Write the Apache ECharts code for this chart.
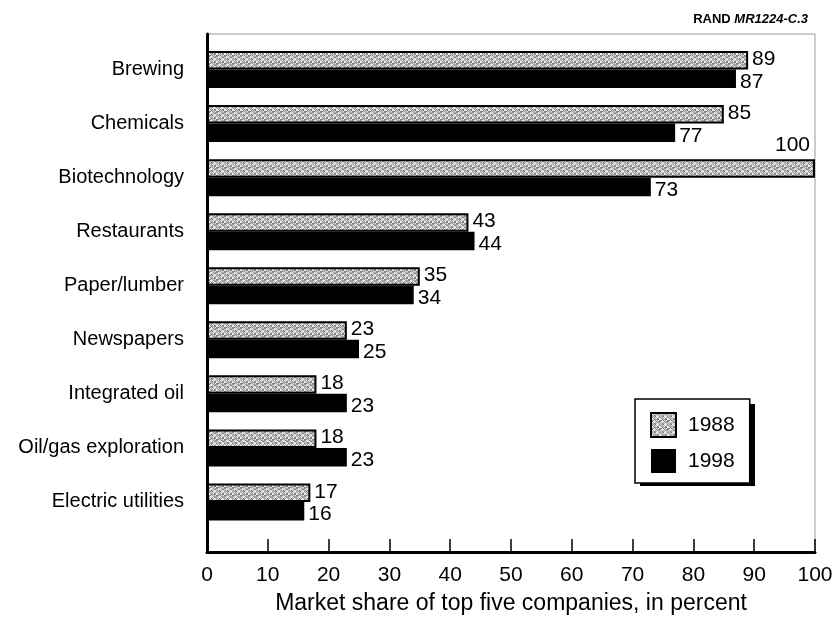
<!DOCTYPE html>
<html>
<head>
<meta charset="utf-8">
<script src="https://cdn.jsdelivr.net/npm/echarts@6/dist/echarts.min.js"></script>
<style>
  html, body { margin: 0; padding: 0; background: #fff; }
  #chart { width: 834px; height: 617px; }
</style>
</head>
<body>
<div id="chart"></div>
<script>
const categories = ['Brewing', 'Chemicals', 'Biotechnology', 'Restaurants', 'Paper/lumber',
  'Newspapers', 'Integrated oil', 'Oil/gas exploration', 'Electric utilities']
const share1988 = [89, 85, 100, 43, 35, 23, 18, 18, 17]
const share1998 = [87, 77, 73, 44, 34, 25, 23, 23, 16]
const xTicks = [0, 10, 20, 30, 40, 50, 60, 70, 80, 90, 100]

const font = 'Liberation Sans, Arial, Helvetica, sans-serif'

// stippled gray fill, like the printed screen
function stipple() {
  const c = document.createElement('canvas')
  c.width = 8; c.height = 8
  const ctx = c.getContext('2d')
  const shades = [150, 235, 190, 120, 210, 170, 245, 140]
  for (let y = 0; y < 8; y++) {
    for (let x = 0; x < 8; x++) {
      const g = shades[(x * 3 + y * 5 + (x * y) % 3) % 8]
      ctx.fillStyle = 'rgb(' + g + ',' + g + ',' + g + ')'
      ctx.fillRect(x, y, 1, 1)
    }
  }
  return c
}

const chart = echarts.init(document.getElementById('chart'))

// the 100 label sits above the bar end
const data1988 = share1988.map(v => v === 100 ? {
  value: v,
  label: { position: ['100%', 0], align: 'right', verticalAlign: 'bottom', offset: [-5, -3] }
} : v)

const option = {
  animation: false,
  backgroundColor: '#fff',
  title: {
    text: '{b|RAND} {i|MR1224-C.3}',
    right: 21,
    top: 8,
    textStyle: {
      fontFamily: font,
      fontSize: 13,
      rich: {
        b: { fontWeight: 'bold', fontSize: 13, fontFamily: font, color: '#000' },
        i: { fontStyle: 'italic', fontSize: 13, fontFamily: font, color: '#000' }
      }
    }
  },
  // solid drop shadow behind the legend box
  graphic: [{
    type: 'rect',
    left: 640,
    top: 404,
    z: 1,
    shape: { width: 115, height: 82 },
    style: { fill: '#000' }
  }],
  legend: {
    data: ['1988', '1998'],
    orient: 'vertical',
    left: 635,
    top: 399,
    z: 5,
    padding: [13, 15, 10, 15],
    icon: 'rect',
    itemWidth: 25,
    itemHeight: 24,
    itemGap: 11,
    backgroundColor: '#fff',
    borderColor: '#000',
    borderWidth: 1.5,
    textStyle: { fontFamily: font, fontSize: 21, color: '#000', padding: [0, 0, 0, 7] }
  },
  grid: [
    { left: 207, right: 19, top: 42.5, height: 486.5, outerBoundsMode: 'none' }, // bars
    { left: 207, right: 19, top: 34, bottom: 65, outerBoundsMode: 'none',
      show: true, borderColor: '#999', borderWidth: 1 } // frame
  ],
  xAxis: [
    { gridIndex: 0, type: 'value', min: 0, max: 100, show: false },
    {
      gridIndex: 1,
      type: 'value',
      min: xTicks[0],
      max: xTicks[xTicks.length - 1],
      interval: 10,
      name: 'Market share of top five companies, in percent',
      nameLocation: 'middle',
      nameGap: 40,
      nameTextStyle: { fontFamily: font, fontSize: 23, color: '#000' },
      axisLine: { show: true, lineStyle: { color: '#000', width: 3 } },
      axisTick: { show: true, inside: true, length: 13, lineStyle: { color: '#000', width: 1.5 } },
      axisLabel: { fontFamily: font, fontSize: 21, color: '#000', margin: 13 },
      splitLine: { show: false }
    }
  ],
  yAxis: [
    {
      gridIndex: 0,
      type: 'category',
      inverse: true,
      data: categories,
      axisLine: { show: false },
      axisTick: { show: false },
      axisLabel: { fontFamily: font, fontSize: 20, color: '#000', margin: 23 }
    },
    {
      gridIndex: 1,
      type: 'value',
      axisLine: { show: true, lineStyle: { color: '#000', width: 3 } },
      axisTick: { show: false },
      axisLabel: { show: false },
      splitLine: { show: false }
    }
  ],
  series: [
    {
      name: '1988',
      type: 'bar',
      xAxisIndex: 0,
      yAxisIndex: 0,
      data: data1988,
      barWidth: 18.5,
      barGap: '0%',
      itemStyle: {
        color: { image: stipple(), repeat: 'repeat' },
        borderColor: '#000',
        borderWidth: 2
      },
      label: {
        show: true,
        position: 'right',
        distance: 4,
        offset: [0, -1],
        fontFamily: font,
        fontSize: 21,
        color: '#000'
      }
    },
    {
      name: '1998',
      type: 'bar',
      xAxisIndex: 0,
      yAxisIndex: 0,
      data: share1998,
      barWidth: 18.5,
      barGap: '0%',
      itemStyle: { color: '#000' },
      label: {
        show: true,
        position: 'right',
        distance: 4,
        offset: [0, 3],
        fontFamily: font,
        fontSize: 21,
        color: '#000'
      }
    }
  ]
}

chart.setOption(option)
</script>
</body>
</html>
